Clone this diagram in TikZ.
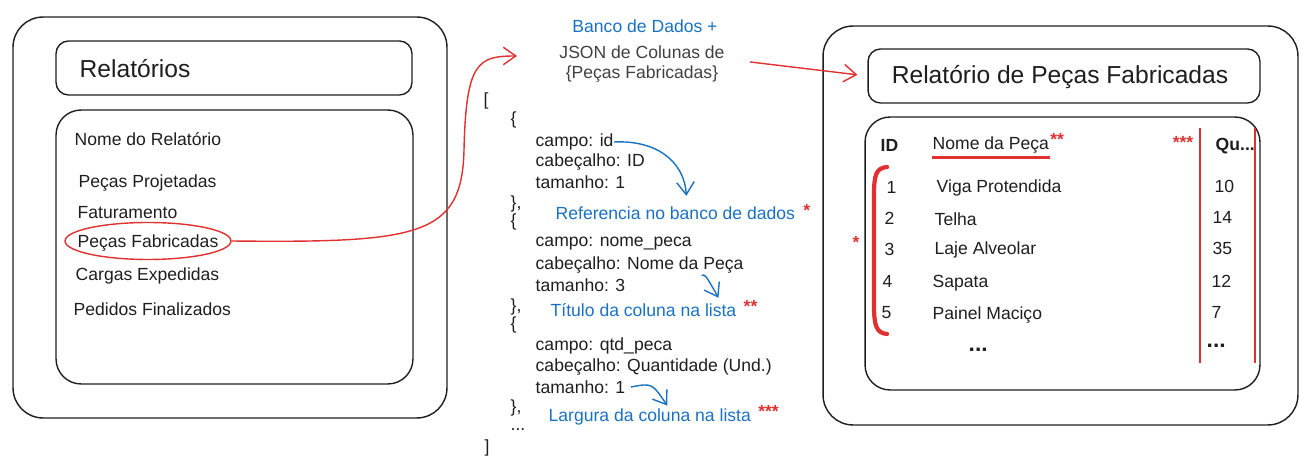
\documentclass[tikz,border=0pt]{standalone}
\usepackage{fontspec}
\setmainfont{Liberation Sans}
\usetikzlibrary{arrows.meta,shapes.geometric}
\definecolor{exblue}{HTML}{1971C2}
\definecolor{exred}{HTML}{E03131}
\definecolor{exink}{HTML}{1E1E1E}

\begin{document}
\begin{tikzpicture}[x=0.02cm,y=-0.02cm,line width=0.8pt,
	panel/.style={draw=exink,rounded corners=0.6cm},
	bar/.style={draw=exink,rounded corners=0.25cm},
	txt/.style={anchor=west,inner sep=0pt,text=exink,font=\fontsize{10}{12}\selectfont},
	big/.style={txt,font=\fontsize{14}{16}\selectfont},
	note/.style={txt,text=exblue},
	star/.style={inner sep=0pt,text=exred,font=\bfseries\fontsize{10}{12}\selectfont},
	tip/.style={-{Straight Barb[length=2.5mm,width=3.5mm]}}]
	\useasboundingbox (0,0) rectangle (1312,465);
	% left: list of reports
	\node[panel,minimum width=8.68cm,minimum height=8.02cm] (left) at (230,217.5) {};
	\node[bar,minimum width=7.12cm,minimum height=1.08cm] (rel) at (234,68) {};
	\node[big] (reltxt) at (79,69) {Relatórios};
	\node[panel,rounded corners=0.5cm,minimum width=7.14cm,minimum height=5.48cm] (list) at (234.5,247) {};
	\node[txt] (nome) at (74,139) {Nome do Relatório};
	\node[txt] (it1) at (78,183) {Peças Projetadas};
	\node[txt] (it2) at (77,213) {Faturamento};
	\node[txt] (it3) at (77,243) {Peças Fabricadas};
	\node[txt] (it4) at (75,276) {Cargas Expedidas};
	\node[txt] (it5) at (73,309) {Pedidos Finalizados};
	\node[draw=exred,ellipse,inner sep=0pt,minimum width=3.32cm,minimum height=0.74cm] (sel) at (148,241) {};

	% middle: json
	\node[note,anchor=center] (bd) at (645,26) {Banco de Dados +};
	\node[txt,anchor=center,align=center,text=exink!85,font=\fontsize{10}{11.5}\selectfont] (json) at (642,64) {JSON de Colunas de\\\{Peças Fabricadas\}};
	\coordinate (jsonin) at (517,56);
	\node[txt] (b0) at (483,101) {[};
	\node[txt] (b1) at (510,120) {\{};
	\node[txt] (campoid) at (535,142) {campo: id};
	\node[txt] (cabid) at (535,162) {cabeçalho: ID};
	\node[txt] (tam1) at (535,182) {tamanho: 1};
	\node[txt] (b2) at (510,204) {\},};
	\node[txt] (b3) at (510,222) {\{};
	\node[txt] (camponome) at (535,244) {campo: nome\_peca};
	\node[txt] (cabnome) at (535,265) {cabeçalho: Nome da Peça};
	\node[txt] (tam3) at (535,285) {tamanho: 3};
	\node[txt] (b4) at (510,307) {\},};
	\node[txt] (b5) at (510,325) {\{};
	\node[txt] (campoqtd) at (535,346) {campo: qtd\_peca};
	\node[txt] (cabqtd) at (535,367) {cabeçalho: Quantidade (Und.)};
	\node[txt] (tam1b) at (535,387) {tamanho: 1};
	\node[txt] (b6) at (510,408) {\},};
	\node[txt] (b7) at (510,430) {...};
	\node[txt] (b8) at (484,448) {]};
	\node[note] (ref) at (555,213) {Referencia no banco de dados};
	\node[star,anchor=west] (s1) at ([xshift=0.14cm,yshift=0.06cm]ref.east) {*};
	\node[note] (tit) at (550,310) {Título da coluna na lista};
	\node[star,anchor=west] (s2) at ([xshift=0.12cm,yshift=0.08cm]tit.east) {**};
	\node[note] (larg) at (548,417) {Largura da coluna na lista};
	\node[star,anchor=west] (s3) at ([xshift=0.12cm,yshift=0.12cm]larg.east) {***};

	% right: report
	\node[panel,minimum width=9.5cm,minimum height=7.98cm] (right) at (1060.5,225.5) {};
	\node[bar,minimum width=7.84cm,minimum height=1.08cm] (ttl) at (1064,76) {};
	\node[big,anchor=center] (ttltxt) at (1060,77) {Relatório de Peças Fabricadas};
	\node[panel,rounded corners=0.5cm,minimum width=7.9cm,minimum height=5.46cm] (tab) at (1062.5,253.5) {};
	\node[txt,font=\bfseries\fontsize{10}{12}\selectfont] (hid) at (880,145) {ID};
	\node[txt] (hnome) at (932,145) {Nome da Peça};
	\node[star,anchor=west] (s4) at ([yshift=0.12cm]hnome.east) {**};
	\node[star] (s5) at (1183,142) {***};
	\node[txt,font=\bfseries\fontsize{10}{12}\selectfont] (hqtd) at (1215,146) {Qu...};
	\draw[exred,line width=1.3pt] ([yshift=-2pt]hnome.south west) -- ([yshift=-2pt]hnome.south east);
	\draw[exred] (1200,128) -- (1200,363);
	\draw[exred] (1255,128) -- (1255,363);

	\node[txt] (r1id) at (886,187) {1};
	\node[txt] (r1nome) at (936,188) {Viga Protendida};
	\node[txt] (r1qtd) at (1214,186) {10};
	\node[txt] (r2id) at (884,218) {2};
	\node[txt] (r2nome) at (934,219) {Telha};
	\node[txt] (r2qtd) at (1212,217) {14};
	\node[txt] (r3id) at (884,249) {3};
	\node[txt] (r3nome) at (934,250) {Laje Alveolar};
	\node[txt] (r3qtd) at (1212,248) {35};
	\node[txt] (r4id) at (882,281) {4};
	\node[txt] (r4nome) at (932,283) {Sapata};
	\node[txt] (r4qtd) at (1211,281) {12};
	\node[txt] (r5id) at (881,313) {5};
	\node[txt] (r5nome) at (932,315) {Painel Maciço};
	\node[txt] (r5qtd) at (1211,312) {7};
	\node[txt,font=\bfseries\fontsize{13}{14}\selectfont] (dots1) at (968,350) {...};
	\node[txt,font=\bfseries\fontsize{13}{14}\selectfont] (dots2) at (1206,346) {...};
	\draw[exred,line width=2.4pt,line cap=round] (887,167) .. controls (876,168) and (874,175) .. (874,195) -- (874,305) .. controls (874,325) and (876,333) .. (887,334);
	\node[star] (s6) at (856,242) {*};

	% connectors
	\draw[exred,tip] (sel.east) .. controls (420,243) and (462,236) .. (464,150) .. controls (466,62) and (478,56) .. (jsonin);
	\draw[exred,tip,shorten <=0.5cm,shorten >=0.2cm] ([yshift=0.1cm]json.east) -- (ttl.west);
	\draw[exblue,tip] (campoid.east) .. controls (655,140) and (684,160) .. ([xshift=0.22cm,yshift=0.2cm]ref.north);
	\draw[exblue,tip] ([xshift=-0.85cm,yshift=-1pt]cabnome.south east) .. controls (705,274) .. ([xshift=1.5cm,yshift=0.1cm]tit.north);
	\draw[exblue,tip] ([xshift=0.1cm]tam1b.east) .. controls (652,383) .. ([xshift=0.35cm,yshift=0.05cm]larg.north);
\end{tikzpicture}
\end{document}
